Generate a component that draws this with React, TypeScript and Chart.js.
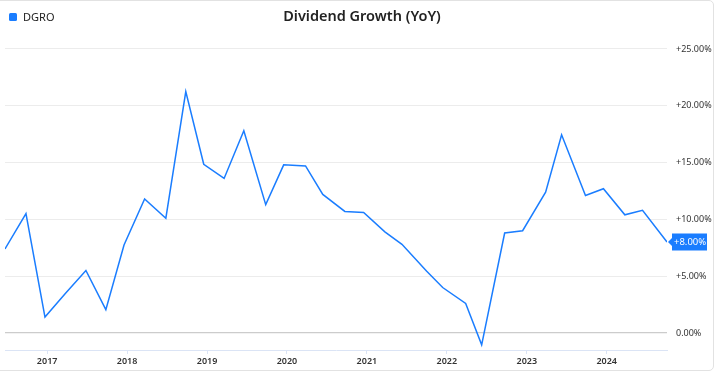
import React, { useEffect, useRef } from "react";
import { Chart, registerables } from "chart.js";

Chart.register(...registerables);

const SERIES_NAME = "DGRO";
const TITLE = "Dividend Growth (YoY)";
const dates = [
  "2016-06-22", "2016-09-26", "2016-12-22", "2017-03-24", "2017-06-27", "2017-09-26", "2017-12-18",
  "2018-03-22", "2018-06-27", "2018-09-26", "2018-12-17", "2019-03-20", "2019-06-18", "2019-09-26",
  "2019-12-17", "2020-03-26", "2020-06-13", "2020-09-22", "2020-12-17", "2021-03-24", "2021-06-10",
  "2021-09-30", "2021-12-13", "2022-03-28", "2022-06-09", "2022-09-22", "2022-12-13", "2023-03-28",
  "2023-06-09", "2023-09-26", "2023-12-17", "2024-03-24", "2024-06-13", "2024-10-03",
];
const growth = [
  7.4, 10.5, 1.4, 3.45, 5.5, 2.05, 7.75,
  11.8, 10.1, 21.25, 14.85, 13.6, 17.8, 11.3,
  14.8, 14.7, 12.2, 10.7, 10.6, 8.9, 7.8,
  5.45, 4.0, 2.6, -1.05, 8.8, 9.0, 12.4,
  17.45, 12.1, 12.7, 10.4, 10.8, 8.0,
];
const yearTicks = [2017, 2018, 2019, 2020, 2021, 2022, 2023, 2024];
const yTicks = [0, 5, 10, 15, 20, 25];

const BLUE = "#1a7dff";
const FONT = "'Noto Sans', 'DejaVu Sans', sans-serif";

function toYear(s: string): number {
  const [y, m, d] = s.split("-").map(Number);
  const start = Date.UTC(y, 0, 1);
  const end = Date.UTC(y + 1, 0, 1);
  return y + (Date.UTC(y, m - 1, d) - start) / (end - start);
}

function fmtPct(v: number): string {
  return (v > 0 ? "+" : "") + v.toFixed(2) + "%";
}

export default function App() {
  const ref = useRef<HTMLCanvasElement | null>(null);
  useEffect(() => {
    if (!ref.current) return;
    const xs = dates.map(toYear);
    const data = xs.map((x, i) => ({ x, y: growth[i] }));

    const legendPlugin = {
      id: "customLegend",
      afterDraw(chart: any) {
        const ctx = chart.ctx;
        ctx.save();
        ctx.fillStyle = BLUE;
        ctx.beginPath();
        (ctx as any).roundRect ? ctx.roundRect(9, 13, 8, 8, 1.5) : ctx.rect(9, 13, 8, 8);
        ctx.fill();
        ctx.fillStyle = "#222";
        ctx.font = `11px ${FONT}`;
        ctx.textBaseline = "middle";
        ctx.textAlign = "left";
        ctx.fillText(SERIES_NAME, 23, 17.5);
        ctx.restore();
      },
    };

    const lastLabelPlugin = {
      id: "lastLabel",
      afterDatasetsDraw(chart: any) {
        const meta = chart.getDatasetMeta(0);
        const pt = meta.data[meta.data.length - 1];
        if (!pt) return;
        const ctx = chart.ctx;
        const y = pt.y;
        const x0 = chart.chartArea.right + 5;
        const w = 35;
        const h = 17;
        ctx.save();
        ctx.fillStyle = BLUE;
        ctx.beginPath();
        ctx.moveTo(x0 - 4, y);
        ctx.lineTo(x0, y - 4);
        ctx.lineTo(x0, y - h / 2);
        ctx.lineTo(x0 + w, y - h / 2);
        ctx.lineTo(x0 + w, y + h / 2);
        ctx.lineTo(x0, y + h / 2);
        ctx.lineTo(x0, y + 4);
        ctx.closePath();
        ctx.fill();
        ctx.fillStyle = "#fff";
        ctx.font = `9.5px ${FONT}`;
        ctx.textBaseline = "middle";
        ctx.textAlign = "left";
        ctx.fillText(fmtPct(growth[growth.length - 1]), x0 + 2, y + 0.5);
        ctx.restore();
      },
    };

    const chart = new Chart(ref.current, {
      type: "line",
      data: {
        datasets: [
          {
            label: SERIES_NAME,
            data,
            borderColor: BLUE,
            backgroundColor: BLUE,
            borderWidth: 1.5,
            pointRadius: 0,
            tension: 0,
          },
        ],
      },
      options: {
        animation: false,
        responsive: false,
        maintainAspectRatio: false,
        layout: { padding: { left: 5, right: 0, top: 0, bottom: 0 } },
        plugins: {
          legend: { display: false },
          tooltip: { enabled: false },
          title: {
            display: true,
            text: TITLE,
            color: "#222",
            font: { family: FONT, size: 14.5, weight: "600" },
            padding: { top: 8, bottom: 9.6 },
          },
        },
        scales: {
          x: {
            type: "linear",
            min: xs[0],
            max: xs[xs.length - 1],
            afterBuildTicks: (s: any) => {
              s.ticks = yearTicks.map((v) => ({ value: v }));
            },
            afterFit: (s: any) => {
              s.height = 26;
            },
            ticks: {
              autoSkip: false,
              maxRotation: 0,
              padding: 2,
              color: "#333",
              font: { family: FONT, size: 9, weight: "600" },
              callback: (v: any) => String(v),
            },
            grid: {
              drawOnChartArea: false,
              drawTicks: true,
              tickLength: 4,
              color: "#dbe4f5",
            },
            border: { display: true, color: "#dbe4f5", width: 1 },
          },
          y: {
            position: "right",
            min: -1.5,
            max: 26.23,
            afterBuildTicks: (s: any) => {
              s.ticks = yTicks.map((v) => ({ value: v }));
            },
            afterFit: (s: any) => {
              s.width = 52;
            },
            ticks: {
              padding: 9,
              color: "#333",
              font: { family: FONT, size: 9 },
              callback: (v: any) => fmtPct(Number(v)),
            },
            grid: {
              drawTicks: false,
              color: (c: any) => (c.tick && c.tick.value === 0 ? "#cccccc" : "#ececec"),
              lineWidth: (c: any) => (c.tick && c.tick.value === 0 ? 1.2 : 1),
            },
            border: { display: false },
          },
        },
      },
      plugins: [legendPlugin, lastLabelPlugin],
    } as any);
    return () => chart.destroy();
  }, []);

  return (
    <div style={{ position: "absolute", left: 0, top: 0, width: 719, height: 376, background: "#fff" }}>
      <div
        style={{
          position: "absolute",
          left: -6,
          top: 0,
          width: 720,
          height: 371,
          border: "1px solid #e2e2e2",
          borderRadius: 5,
          boxSizing: "border-box",
        }}
      />
      <canvas ref={ref} width={719} height={376} style={{ position: "absolute", left: 0, top: 0, width: 719, height: 376 }} />
    </div>
  );
}
